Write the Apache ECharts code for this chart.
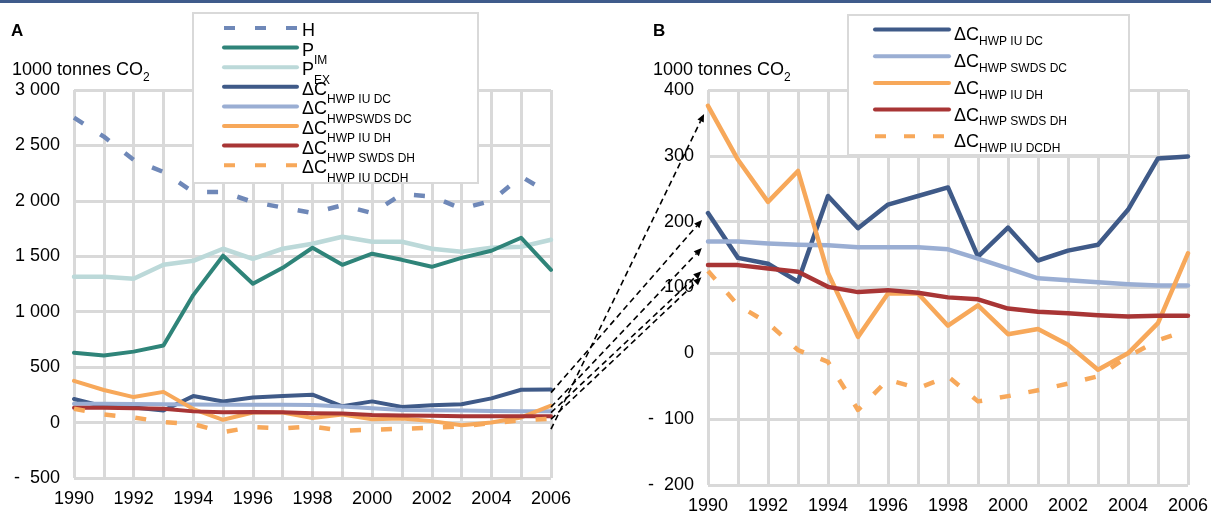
<!DOCTYPE html>
<html><head><meta charset="utf-8">
<script src="https://cdn.jsdelivr.net/npm/echarts@6/dist/echarts.min.js"></script>
<style>html,body{margin:0;padding:0;background:#fff}#c{width:1211px;height:515px}</style>
</head><body><div id="c"></div>
<script>
// ---------- data ----------
const years = ['1990','1991','1992','1993','1994','1995','1996','1997','1998','1999','2000','2001','2002','2003','2004','2005','2006'];
const H      = [2750, 2580, 2370, 2260, 2080, 2080, 1990, 1940, 1890, 1960, 1890, 2060, 2040, 1930, 2000, 2220, 2060];
const P_IM   = [630, 605, 640, 695, 1150, 1505, 1252, 1396, 1577, 1423, 1523, 1468, 1405, 1486, 1550, 1667, 1378];
const P_EX   = [1315, 1315, 1297, 1423, 1459, 1568, 1477, 1568, 1613, 1676, 1631, 1631, 1568, 1541, 1577, 1586, 1649];
const IU_DC  = [213, 145, 136, 109, 239, 190, 226, 239, 252, 147, 191, 141, 156, 165, 218, 296, 299];
const SWDS_DC= [170, 170, 167, 165, 164, 161, 161, 161, 158, 144, 129, 114, 111, 108, 105, 103, 103];
const IU_DH  = [376, 294, 230, 277, 122, 25, 91, 91, 42, 73, 29, 37, 13, -25, 0, 46, 152];
const SWDS_DH= [134, 134, 129, 124, 101, 93, 96, 92, 85, 82, 68, 63, 61, 58, 56, 57, 57];
const IU_DCDH= [125, 73, 46, 5, -13, -86, -40, -53, -35, -73, -65, -56, -46, -35, -5, 20, 35];
// y-axis ticks
const ticksA = {min: -500, max: 3000, interval: 500};
const ticksB = {min: -200, max: 400, interval: 100};
// zoom-link arrows: start value on panel A at 2006, target = panel B 1990 value
const arrowStartA = [-60, 270, 140, 90, 30];
const arrowTargetB = [IU_DH[0], IU_DC[0], SWDS_DC[0], SWDS_DH[0], IU_DCDH[0]];

// ---------- styles ----------
const C = {H:'#6f88b8', PIM:'#2f8479', PEX:'#bcd9d9', IUDC:'#3f5a88', SWDSDC:'#9aaed3', IUDH:'#f7a85a', SWDSDH:'#a83535', DCDH:'#f7a85a'};
const FONT = 'Liberation Sans, Arial, sans-serif';
const grid = '#d9d9d9';

function fmtNum(v){
  const a = Math.abs(v);
  let s = a >= 1000 ? Math.floor(a/1000) + ' ' + String(a % 1000).padStart(3,'0') : String(a);
  return v < 0 ? '-  ' + s : s;
}

const seriesDefs = [
  // panel A
  {name:'A:H', data:H, color:C.H, dash:[11,20], g:0, w:4.5},
  {name:'A:PEX', data:P_EX, color:C.PEX, g:0, w:4.5},
  {name:'A:PIM', data:P_IM, color:C.PIM, g:0, w:4},
  {name:'A:IUDC', data:IU_DC, color:C.IUDC, g:0, w:4},
  {name:'A:SWDSDC', data:SWDS_DC, color:C.SWDSDC, g:0, w:4},
  {name:'A:IUDH', data:IU_DH, color:C.IUDH, g:0, w:4},
  {name:'A:SWDSDH', data:SWDS_DH, color:C.SWDSDH, g:0, w:4},
  {name:'A:DCDH', data:IU_DCDH, color:C.DCDH, dash:[11,20], g:0, w:4.5},
  // panel B
  {name:'B:IUDC', data:IU_DC, color:C.IUDC, g:1, w:4.5},
  {name:'B:SWDSDC', data:SWDS_DC, color:C.SWDSDC, g:1, w:4.5},
  {name:'B:IUDH', data:IU_DH, color:C.IUDH, g:1, w:4.5},
  {name:'B:SWDSDH', data:SWDS_DH, color:C.SWDSDH, g:1, w:4.5},
  {name:'B:DCDH', data:IU_DCDH, color:C.DCDH, dash:[11,18], g:1, w:4.5}
];

const legendText = {
  'A:H':'{m|H}{s| }', 'A:PIM':'{m|P}{s|IM}', 'A:PEX':'{m|P}{s|EX}',
  'A:IUDC':'{m|ΔC}{s|HWP IU DC}', 'A:SWDSDC':'{m|ΔC}{s|HWPSWDS DC}', 'A:IUDH':'{m|ΔC}{s|HWP IU DH}',
  'A:SWDSDH':'{m|ΔC}{s|HWP SWDS DH}', 'A:DCDH':'{m|ΔC}{s|HWP IU DCDH}',
  'B:IUDC':'{m|ΔC}{s|HWP IU DC}', 'B:SWDSDC':'{m|ΔC}{s|HWP SWDS DC}', 'B:IUDH':'{m|ΔC}{s|HWP IU DH}',
  'B:SWDSDH':'{m|ΔC}{s|HWP SWDS DH}', 'B:DCDH':'{m|ΔC}{s|HWP IU DCDH}'
};
const richA = {
  m:{fontSize:18, lineHeight:36, fontFamily:FONT, color:'#000', verticalAlign:'middle'},
  s:{fontSize:12, lineHeight:14, fontFamily:FONT, color:'#000', padding:[20,0,0,0], verticalAlign:'middle'}
};
const richB = {
  m:{fontSize:18, lineHeight:36, fontFamily:FONT, color:'#000', verticalAlign:'middle'},
  s:{fontSize:12, lineHeight:14, fontFamily:FONT, color:'#000', padding:[13,0,0,0], verticalAlign:'middle'}
};

function xAxis(gi){
  return {type:'category', gridIndex:gi, data:years, boundaryGap:false,
    axisLine:{show:false}, axisTick:{show:false},
    axisLabel:{interval:1, fontSize:18, fontFamily:FONT, color:'#000', margin:12},
    splitLine:{show:true, interval:0, lineStyle:{color:grid, width:3}}};
}
function yAxis(gi, t){
  return {type:'value', gridIndex:gi, min:t.min, max:t.max, interval:t.interval,
    axisLine:{show:false}, axisTick:{show:false},
    axisLabel:{fontSize:18, fontFamily:FONT, color:'#000', margin:14, formatter:fmtNum},
    splitLine:{show:true, lineStyle:{color:grid, width:3}}};
}
const legendCommon = {orient:'vertical', padding:0, itemHeight:14, selectedMode:false,
  itemStyle:{opacity:0, color:'transparent', borderWidth:0},
  lineStyle:{width:4, opacity:1}, formatter:n => legendText[n]};

const chart = echarts.init(document.getElementById('c'), null, {renderer:'canvas'});
chart.setOption({
  animation:false,
  backgroundColor:'#fff',
  grid:[
    {left:74, right:660, top:90, bottom:37},
    {left:708, right:23, top:90, bottom:30}
  ],
  xAxis:[xAxis(0), xAxis(1)],
  yAxis:[yAxis(0, ticksA), yAxis(1, ticksB)],
  legend:[
    Object.assign({}, legendCommon, {left:222, top:15, itemGap:-12.4, itemWidth:73,
     data:['A:H','A:PIM','A:PEX','A:IUDC','A:SWDSDC','A:IUDH','A:SWDSDH','A:DCDH'],
     textStyle:{color:'#000', fontFamily:FONT, padding:[6,0,0,0], rich:richA}}),
    Object.assign({}, legendCommon, {left:873, top:23, itemGap:1.7, itemWidth:74,
     data:['B:IUDC','B:SWDSDC','B:IUDH','B:SWDSDH','B:DCDH'],
     textStyle:{color:'#000', fontFamily:FONT, padding:[12,0,0,0], rich:richB}})
  ],
  series: seriesDefs.map(d => ({
    type:'line', name:d.name, data:d.data, xAxisIndex:d.g, yAxisIndex:d.g,
    symbol:'none', silent:true, color:d.color,
    lineStyle:{color:d.color, width:d.w, type: d.dash || 'solid', cap: d.dash ? 'butt' : 'round', join:'round'},
    emphasis:{disabled:true}
  }))
});

// ---------- annotations ----------
const els = [
  {type:'rect', shape:{x:0, y:0, width:1211, height:3}, style:{fill:'#3f5b8b'}, z:10},
  {type:'rect', shape:{x:193, y:13, width:285, height:170}, style:{fill:'#fff', stroke:'#d9d9d9', lineWidth:2}, z:3},
  {type:'rect', shape:{x:848, y:15, width:281, height:140}, style:{fill:'#fff', stroke:'#d9d9d9', lineWidth:2}, z:3},
  {type:'text', x:11, y:31, style:{text:'A', font:'bold 17px ' + FONT, fill:'#000', verticalAlign:'middle'}, z:10},
  {type:'text', x:653, y:31, style:{text:'B', font:'bold 17px ' + FONT, fill:'#000', verticalAlign:'middle'}, z:10},
  {type:'text', x:12, y:70, style:{text:'{m|1000 tonnes CO}{s|2}', verticalAlign:'middle', rich:{
      m:{fontSize:18, lineHeight:30, fontFamily:FONT, fill:'#000', color:'#000'},
      s:{fontSize:12, lineHeight:14, fontFamily:FONT, fill:'#000', color:'#000', padding:[16,0,0,0]}}}, z:10},
  {type:'text', x:653, y:70, style:{text:'{m|1000 tonnes CO}{s|2}', verticalAlign:'middle', rich:{
      m:{fontSize:18, lineHeight:30, fontFamily:FONT, fill:'#000', color:'#000'},
      s:{fontSize:12, lineHeight:14, fontFamily:FONT, fill:'#000', color:'#000', padding:[16,0,0,0]}}}, z:10}
];
arrowStartA.forEach((sv, i) => {
  const p0 = chart.convertToPixel({gridIndex:0}, [years.length - 1, sv]);
  const pt = chart.convertToPixel({gridIndex:1}, [0, arrowTargetB[i]]);
  const dx = pt[0] - p0[0], dy = pt[1] - p0[1];
  const L = Math.sqrt(dx*dx + dy*dy), ux = dx / L, uy = dy / L;
  const tip = [pt[0] - ux*9, pt[1] - uy*9];
  const base = [tip[0] - ux*8, tip[1] - uy*8];
  const nx = -uy, ny = ux;
  els.push({type:'line', shape:{x1:p0[0], y1:p0[1], x2:base[0], y2:base[1]},
    style:{stroke:'#000', lineWidth:1.6, lineDash:[6,4]}, z:11});
  els.push({type:'polygon', shape:{points:[tip, [base[0]+nx*3.5, base[1]+ny*3.5], [base[0]-nx*3.5, base[1]-ny*3.5]]},
    style:{fill:'#000'}, z:11});
});
chart.setOption({graphic:{elements:els}});
</script>
</body></html>
